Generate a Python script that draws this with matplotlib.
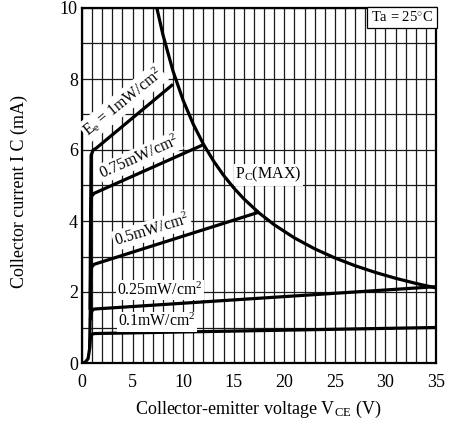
import matplotlib
matplotlib.use("Agg")
import matplotlib.pyplot as plt

plt.rcParams['font.family'] = ['Liberation Serif', 'DejaVu Serif']
plt.rcParams['mathtext.fontset'] = 'custom'
plt.rcParams['mathtext.rm'] = 'Liberation Serif'
plt.rcParams['mathtext.it'] = 'Liberation Serif:italic'

# collector current curves, Vce (V) / Ic (mA)
v_1 = [0, 0.3, 0.6, 0.75, 0.82, 0.85, 0.9, 1.1, 1.4, 9.0]
i_1 = [0, 0.02, 0.12, 0.4, 1.5, 4.0, 5.85, 6.0, 6.05, 7.85]
v_075 = [0.82, 0.85, 0.95, 1.2, 12.0]
i_075 = [1.5, 4.3, 4.7, 4.78, 6.15]
v_05 = [0.82, 0.85, 0.95, 1.2, 17.5]
i_05 = [1.5, 2.45, 2.7, 2.78, 4.25]
v_025 = [0.82, 0.86, 0.97, 1.2, 35.0]
i_025 = [1.2, 1.3, 1.47, 1.52, 2.15]
v_01 = [0.75, 0.82, 0.9, 1.05, 1.3, 35.0]
i_01 = [0.4, 0.65, 0.78, 0.82, 0.83, 1.0]

# max collector power dissipation (mW)
pc_max = 74.0
v_pc = [7.4, 8, 9, 10, 11, 12, 13, 14, 15, 16, 17.5, 19, 21, 23, 25, 27, 29, 31, 33, 35]

x_ticks = [0, 5, 10, 15, 20, 25, 30, 35]
y_ticks = [0, 2, 4, 6, 8, 10]

fig = plt.figure(figsize=(4.51, 4.23), dpi=100)
ax = fig.add_axes([82 / 451, 60 / 423, 354 / 451, 355 / 423])

ax.set_xlim(0, 35)
ax.set_ylim(0, 10)
ax.set_xticks(x_ticks)
ax.set_yticks(y_ticks)
ax.set_xticks(range(0, 36), minor=True)
ax.set_yticks(range(0, 11), minor=True)
ax.grid(which='both', color='#1a1a1a', linewidth=0.9)
ax.tick_params(which='both', length=0, labelsize=13)
ax.tick_params(axis='x', pad=8)
ax.tick_params(axis='y', pad=3)
ax.set_axisbelow(True)
for s in ax.spines.values():
    s.set_linewidth(1.6)

lw = 2.3
for v, i in [(v_1, i_1), (v_075, i_075), (v_05, i_05), (v_025, i_025), (v_01, i_01)]:
    ax.plot(v, i, color='black', lw=lw, solid_capstyle='butt', zorder=3)
ax.plot(v_pc, [pc_max / v for v in v_pc], color='black', lw=lw, zorder=3)

box = dict(facecolor='white', edgecolor='none', pad=1)
fs = 11.3
ax.text(4.05, 7.35, r'E$_{\mathrm{e}}$ = 1mW/cm$^2$', rotation=39, ha='center', va='center',
        fontsize=fs, bbox=box, zorder=4)
ax.text(5.7, 5.8, r'0.75mW/cm$^2$', rotation=24, ha='center', va='center',
        fontsize=fs, bbox=box, zorder=4)
ax.text(6.9, 3.75, r'0.5mW/cm$^2$', rotation=17, ha='center', va='center',
        fontsize=fs, bbox=box, zorder=4)
ax.text(7.7, 2.06, r'0.25mW/cm$^2$', ha='center', va='center',
        fontsize=fs, bbox=box, zorder=4)
ax.text(7.4, 1.16, r'0.1mW/cm$^2$', ha='center', va='center',
        fontsize=fs, bbox=box, zorder=4)
ax.text(18.4, 5.3, r'P$_{\mathrm{C}}$(MAX)', ha='center', va='center',
        fontsize=11.5, bbox=box, zorder=4)
ax.text(31.65, 9.74, 'Ta = 25$^{\\circ}$C', ha='center', va='center', fontsize=10.5,
        bbox=dict(facecolor='white', edgecolor='black', linewidth=0.9, pad=2.6), zorder=4)

fig.text(258 / 451, 1 - 409 / 423, r'Collector-emitter voltage V$_{\mathrm{CE}}$ (V)',
         fontsize=13, ha='center', va='center')
fig.text(19 / 451, 1 - 191 / 423, 'Collector current I C (mA)',
         fontsize=13, ha='center', va='center', rotation=90)

fig.savefig('out.png', dpi=100)
